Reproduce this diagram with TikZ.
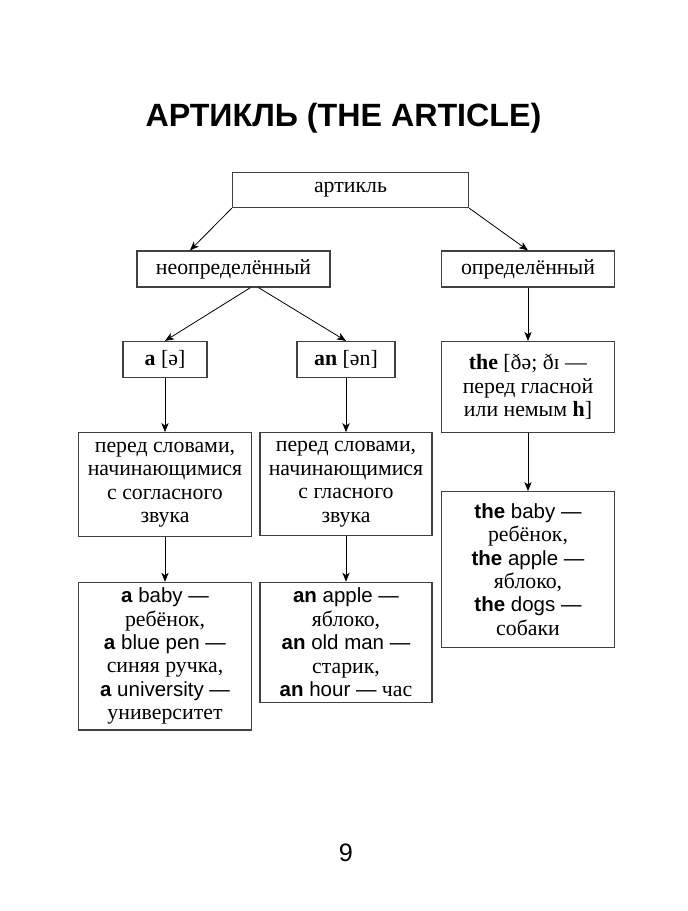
\documentclass[tikz,border=0pt]{standalone}
\usepackage{fontspec}
\setmainfont{Liberation Serif}
\newfontfamily\engfont{Liberation Sans}[Scale=0.94]
\newfontfamily\headfont{Liberation Sans}
\newcommand{\engl}[1]{{\engfont #1}}
\usepackage{tikz}
\usetikzlibrary{arrows.meta}

\begin{document}
\begin{tikzpicture}[x=0.5pt, y=-0.5pt, >={Stealth[length=4.5pt, width=3.6pt, inset=1.2pt]},
    box/.style={draw=black!75, line width=0.6pt, align=center, inner sep=0pt,
      font=\fontsize{10.9}{11.7}\selectfont}]
    \useasboundingbox (0,0) rectangle (688,911);
    \node[anchor=base, font=\headfont\bfseries\fontsize{16.1}{18}\selectfont] (title) at (343.4, 126.5) {АРТИКЛЬ (THE ARTICLE)};
    \node[box, minimum width=118pt, minimum height=17.5pt] (art) at (350.5, 190) {артикль};
    \node[box, minimum width=96.5pt, minimum height=18pt] (indef) at (233.5, 269) {неопределённый};
    \node[box, minimum width=86.5pt, minimum height=18pt] (def) at (528, 269) {определённый};
    \node[box, minimum width=42pt, minimum height=18pt] (a) at (165, 359.5) {\textbf{a} [ə]};
    \node[box, minimum width=49pt, minimum height=18pt] (an) at (346, 359.5) {\textbf{an} [ən]};
    \node[box, minimum width=86.5pt, minimum height=45.3pt] (the) at (528, 386.8) {\textbf{the} [ðə; ðɪ —\\перед гласной\\или немым \textbf{h}]};
    \node[box, minimum width=86.3pt, minimum height=52pt] (acons) at (165, 484.7) {перед словами,\\начинающимися\\с согласного\\звука};
    \node[box, minimum width=86pt, minimum height=51.5pt] (anvow) at (346, 484.3) {перед словами,\\начинающимися\\с гласного\\звука};
    \node[box, minimum width=86.5pt, minimum height=77.8pt] (theex) at (528, 569.5) {\engl{\textbf{the} baby —}\\ребёнок,\\\engl{\textbf{the} apple —}\\яблоко,\\\engl{\textbf{the} dogs —}\\собаки};
    \node[box, minimum width=86.3pt, minimum height=73.8pt] (aex) at (165, 656.2) {\engl{\textbf{a} baby —}\\ребёнок,\\\engl{\textbf{a} blue pen —}\\синяя ручка,\\\engl{\textbf{a} university —}\\университет};
    \node[box, minimum width=86pt, minimum height=60pt] (anex) at (346, 642.3) {\engl{\textbf{an} apple —}\\яблоко,\\\engl{\textbf{an} old man —}\\старик,\\\engl{\textbf{an} hour —} час};
    \node[anchor=base, font=\headfont\fontsize{12.6}{14}\selectfont] (page) at (346, 861.5) {9};
    \draw [->] (art.south west) to ([xshift=-21.75pt]indef.north);
    \draw [->] (art.south east) to (def.north);
    \draw [->] ([xshift=8.5pt]indef.south) to (a.north);
    \draw [->] ([xshift=12.5pt]indef.south) to (an.north);
    \draw [->] (def) to (the);
    \draw [->] (a) to (acons);
    \draw [->] (an) to (anvow);
    \draw [->] (the) to (theex);
    \draw [->] (acons) to (aex);
    \draw [->] (anvow) to (anex);
  \end{tikzpicture}
\end{document}
